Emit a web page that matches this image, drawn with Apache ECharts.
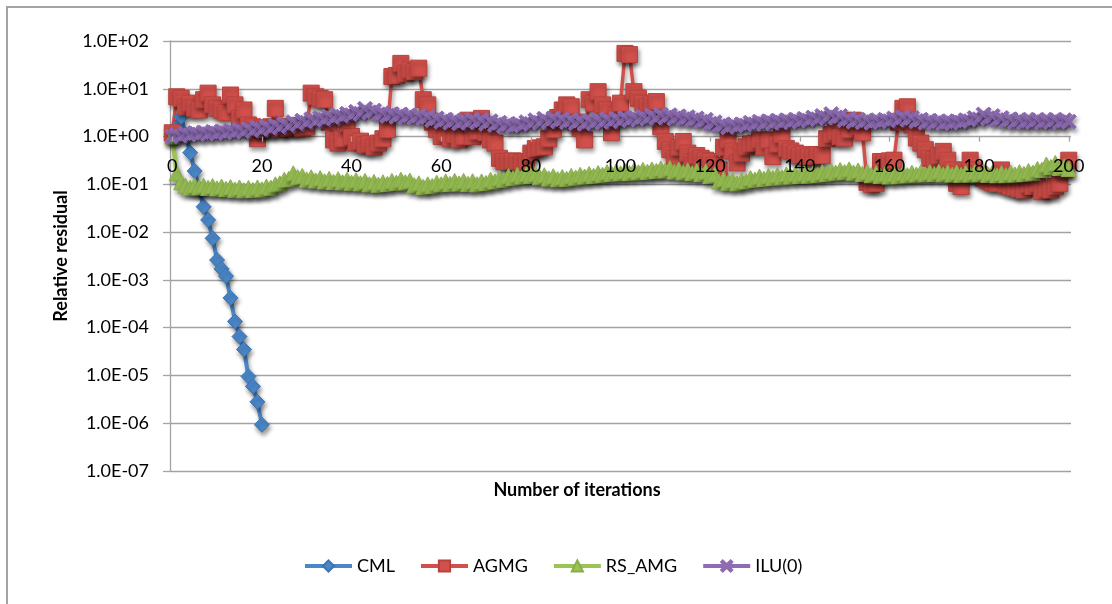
<!DOCTYPE html>
<html>
<head>
<meta charset="utf-8">
<title>Relative residual vs. iterations</title>
<script src="https://cdn.jsdelivr.net/npm/echarts@6/dist/echarts.min.js"></script>
<style>
  html, body { margin: 0; padding: 0; background: #ffffff; }
  #chart { width: 1112px; height: 604px; }
</style>
</head>
<body>
<div id="chart"></div>
<script>
// Iteration numbers along the horizontal axis (0 .. 200)
const iterations = Array.from({ length: 201 }, (_, i) => String(i));

// Decade ticks of the logarithmic residual axis and their printed labels
const yTickLabels = ['1.0E-07', '1.0E-06', '1.0E-05', '1.0E-04', '1.0E-03',
                     '1.0E-02', '1.0E-01', '1.0E+00', '1.0E+01', '1.0E+02'];

// CML: converges within about twenty iterations
const cml = [1.0, 1.6, 2.6, 1.1, 0.46, 0.19, 0.08, 0.034, 0.018, 0.0074,
             0.0026, 0.0017, 0.0012, 0.00042, 0.000135, 0.000065, 0.000035,
             0.0000095, 0.0000059, 0.0000028, 0.00000093];

// AGMG
const agmg = [
  1.2, 6.8, 6.3, 4.2, 5.0, 3.9, 3.6, 5.9, 8.1, 4.6,
  3.9, 3.6, 3.2, 7.4, 4.6, 2.4, 3.6, 1.75, 1.6, 0.9,
  1.5, 1.4, 1.6, 3.9, 1.4, 1.6, 1.5, 1.6, 1.7, 1.5,
  1.6, 8.1, 6.8, 6.3, 5.9, 2.0, 0.85, 0.73, 0.9, 1.9,
  1.0, 0.73, 0.8, 0.66, 0.7, 0.6, 0.73, 0.9, 1.4, 18,
  19, 34, 21, 25, 23, 27, 5.9, 4.6, 2.0, 1.4,
  1.0, 1.2, 0.9, 1.1, 0.85, 1.0, 2.2, 1.0, 1.3, 2.4,
  1.2, 0.85, 0.73, 0.35, 0.30, 0.30, 0.31, 0.30, 0.29, 0.30,
  0.45, 0.56, 0.58, 0.61, 0.9, 1.4, 2.5, 3.6, 4.6, 4.2,
  2.0, 1.5, 0.85, 5.9, 5.0, 8.7, 4.6, 3.6, 1.2, 2.8,
  5.0, 55, 52, 8.7, 6.3, 5.0, 4.2, 4.8, 5.4, 1.6,
  0.79, 0.53, 0.35, 0.6, 0.79, 0.45, 0.30, 0.40, 0.35, 0.32,
  0.3, 0.25, 0.2, 0.6, 0.85, 0.5, 0.28, 0.45, 0.61, 0.7,
  0.73, 0.85, 0.6, 0.85, 0.38, 0.7, 1.1, 0.56, 0.5, 0.45,
  0.4, 0.42, 0.38, 0.38, 0.42, 0.40, 0.9, 1.1, 1.25, 1.0,
  0.93, 1.4, 2.2, 1.6, 1.2, 0.11, 0.10, 0.105, 0.3, 0.3,
  0.31, 0.32, 2.0, 3.9, 4.2, 1.75, 0.93, 0.73, 0.53, 0.35,
  0.33, 0.4, 0.49, 0.32, 0.2, 0.105, 0.09, 0.2, 0.32, 0.2,
  0.16, 0.135, 0.12, 0.11, 0.105, 0.2, 0.1, 0.09, 0.085, 0.08,
  0.076, 0.1, 0.09, 0.105, 0.07, 0.08, 0.076, 0.09, 0.105, 0.2,
  0.32
];

// RS_AMG
const rsAmg = [
  1.00, 0.17, 0.11, 0.092, 0.085, 0.095, 0.086, 0.094, 0.084, 0.092,
  0.082, 0.090, 0.080, 0.088, 0.077, 0.086, 0.075, 0.084, 0.076, 0.086,
  0.078, 0.090, 0.085, 0.100, 0.105, 0.125, 0.130, 0.170, 0.140, 0.150,
  0.125, 0.140, 0.120, 0.135, 0.115, 0.130, 0.112, 0.128, 0.110, 0.125,
  0.108, 0.122, 0.105, 0.118, 0.100, 0.112, 0.098, 0.110, 0.102, 0.118,
  0.108, 0.125, 0.110, 0.120, 0.095, 0.105, 0.088, 0.100, 0.092, 0.108,
  0.100, 0.115, 0.102, 0.118, 0.104, 0.118, 0.102, 0.116, 0.100, 0.115,
  0.106, 0.125, 0.115, 0.135, 0.125, 0.150, 0.135, 0.160, 0.145, 0.165,
  0.150, 0.165, 0.140, 0.155, 0.132, 0.148, 0.128, 0.142, 0.130, 0.150,
  0.138, 0.158, 0.145, 0.165, 0.150, 0.172, 0.158, 0.180, 0.165, 0.185,
  0.170, 0.188, 0.172, 0.195, 0.178, 0.200, 0.182, 0.205, 0.190, 0.215,
  0.195, 0.220, 0.185, 0.205, 0.178, 0.198, 0.172, 0.190, 0.165, 0.185,
  0.150, 0.160, 0.115, 0.130, 0.108, 0.122, 0.105, 0.120, 0.115, 0.135,
  0.125, 0.145, 0.130, 0.150, 0.135, 0.155, 0.140, 0.162, 0.145, 0.165,
  0.150, 0.168, 0.152, 0.172, 0.158, 0.180, 0.165, 0.190, 0.175, 0.200,
  0.180, 0.205, 0.175, 0.195, 0.165, 0.182, 0.155, 0.172, 0.150, 0.165,
  0.145, 0.162, 0.148, 0.170, 0.155, 0.175, 0.160, 0.180, 0.162, 0.182,
  0.165, 0.185, 0.162, 0.180, 0.160, 0.178, 0.158, 0.176, 0.160, 0.180,
  0.162, 0.182, 0.158, 0.176, 0.155, 0.172, 0.156, 0.176, 0.160, 0.180,
  0.165, 0.190, 0.175, 0.210, 0.200, 0.260, 0.230, 0.280, 0.220, 0.240,
  0.210
];

// ILU(0)
const ilu0 = [
  1.00, 1.08, 1.02, 1.15, 1.06, 1.18, 1.10, 1.22, 1.12, 1.25,
  1.15, 1.28, 1.18, 1.32, 1.22, 1.38, 1.26, 1.45, 1.30, 1.52,
  1.38, 1.60, 1.45, 1.72, 1.55, 1.85, 1.65, 2.00, 1.80, 2.15,
  1.95, 2.30, 2.10, 2.45, 2.25, 2.60, 2.40, 2.80, 2.60, 3.00,
  2.80, 3.30, 3.00, 3.80, 3.20, 3.50, 2.90, 3.10, 2.70, 2.95,
  2.60, 2.90, 2.50, 2.80, 2.45, 2.75, 2.40, 2.60, 2.20, 2.40,
  2.05, 2.25, 1.95, 2.20, 1.90, 2.15, 1.95, 2.25, 2.00, 2.20,
  1.85, 2.10, 1.75, 1.95, 1.65, 1.85, 1.60, 1.80, 1.70, 2.00,
  1.85, 2.20, 1.95, 2.35, 2.05, 2.40, 2.10, 2.30, 2.00, 2.20,
  1.90, 2.15, 1.85, 2.10, 1.90, 2.20, 1.95, 2.30, 2.05, 2.35,
  2.10, 2.45, 2.20, 2.50, 2.25, 2.60, 2.35, 2.75, 2.45, 2.85,
  2.50, 2.80, 2.40, 2.65, 2.30, 2.55, 2.20, 2.40, 2.05, 2.25,
  1.85, 2.00, 1.65, 1.80, 1.55, 1.75, 1.60, 1.80, 1.70, 1.95,
  1.80, 2.05, 1.85, 2.10, 1.90, 2.15, 1.95, 2.20, 2.00, 2.25,
  2.05, 2.35, 2.15, 2.50, 2.30, 2.70, 2.45, 2.95, 2.50, 2.70,
  2.20, 2.35, 2.05, 2.25, 2.00, 2.20, 1.95, 2.15, 2.00, 2.25,
  2.10, 2.40, 2.20, 2.55, 2.25, 2.45, 2.10, 2.25, 1.95, 2.15,
  1.90, 2.10, 1.85, 2.05, 1.90, 2.10, 1.95, 2.20, 2.10, 2.45,
  2.30, 2.90, 2.40, 2.70, 2.20, 2.45, 2.05, 2.30, 2.00, 2.25,
  1.95, 2.20, 2.00, 2.25, 1.95, 2.20, 2.00, 2.25, 1.95, 2.20,
  2.05
];

const FONT = 'Lato';
const GRID_LINE = '#a3a3a3';

// Drop shadow shared by the lines and the markers
const shadow = {
  shadowColor: 'rgba(0,0,0,0.4)',
  shadowBlur: 4,
  shadowOffsetX: 1.5,
  shadowOffsetY: 3.5
};

const crossSymbol = 'path://M3,0 L10,7 L17,0 L20,3 L13,10 L20,17 L17,20 L10,13 L3,20 L0,17 L7,10 L0,3 Z';

function makeSeries(name, data, color, symbol, symbolSize, lineWidth, border) {
  return {
    name: name,
    type: 'line',
    xAxisIndex: 0,
    yAxisIndex: 0,
    data: data,
    symbol: symbol,
    symbolSize: symbolSize,
    showAllSymbol: true,
    lineStyle: Object.assign({ color: color, width: lineWidth }, shadow),
    itemStyle: Object.assign({ color: color, borderColor: border, borderWidth: 1 }, shadow),
    emphasis: { disabled: true }
  };
}

function decadeLabel(v) {
  const e = Math.round(Math.log10(v));
  return yTickLabels[e + 7] !== undefined ? yTickLabels[e + 7] : '';
}

const chart = echarts.init(document.getElementById('chart'), null, { renderer: 'canvas' });

chart.setOption({
  animation: false,
  backgroundColor: '#ffffff',
  textStyle: { fontFamily: FONT },
  grid: [
    // plotting area
    { left: 170, right: 41, top: 41, bottom: 133 },
    // band whose bottom edge sits on the 1.0E+00 line and carries the iteration labels
    { left: 170, right: 41, top: 41, height: 95.6 }
  ],
  xAxis: [
    {
      type: 'category',
      gridIndex: 0,
      data: iterations,
      boundaryGap: true,
      show: false
    },
    {
      type: 'category',
      gridIndex: 1,
      data: iterations,
      boundaryGap: true,
      position: 'bottom',
      z: 10,
      axisLine: { show: false },
      axisTick: {
        show: true,
        interval: 19,
        alignWithLabel: true,
        length: 5,
        lineStyle: { color: GRID_LINE, width: 1.3 }
      },
      axisLabel: {
        interval: 19,
        margin: 21,
        color: '#000000',
        fontFamily: FONT,
        fontSize: 18
      },
      splitLine: { show: false }
    }
  ],
  yAxis: [
    {
      type: 'log',
      gridIndex: 0,
      logBase: 10,
      min: 1e-7,
      max: 100,
      interval: 1,
      name: 'Relative residual',
      nameLocation: 'middle',
      nameRotate: 90,
      nameGap: 100,
      nameTextStyle: {
        color: '#000000',
        fontFamily: FONT,
        fontSize: 18,
        fontWeight: 'bold'
      },
      axisLine: { show: true, lineStyle: { color: GRID_LINE, width: 1.3 } },
      axisTick: { show: true, length: 7, lineStyle: { color: GRID_LINE, width: 1.3 } },
      axisLabel: {
        margin: 21,
        color: '#000000',
        fontFamily: FONT,
        fontSize: 18,
        formatter: decadeLabel
      },
      splitLine: { show: true, lineStyle: { color: GRID_LINE, width: 1.3 } },
      minorTick: { show: false },
      minorSplitLine: { show: false }
    },
    {
      type: 'value',
      gridIndex: 1,
      show: false
    }
  ],
  legend: {
    left: 298,
    top: 552,
    itemWidth: 47,
    itemHeight: 14,
    itemGap: 24,
    lineStyle: { width: 4, shadowBlur: 0, shadowOffsetX: 0, shadowOffsetY: 0 },
    itemStyle: { shadowBlur: 0, shadowOffsetX: 0, shadowOffsetY: 0 },
    textStyle: { color: '#000000', fontFamily: FONT, fontSize: 18 },
    data: ['CML', 'AGMG', 'RS_AMG', 'ILU(0)']
  },
  graphic: [
    {
      type: 'rect',
      silent: true,
      shape: { x: 7, y: 7, width: 1300, height: 800 },
      style: { fill: 'none', stroke: '#a3a3a3', lineWidth: 2 }
    },
    {
      type: 'text',
      silent: true,
      x: 577,
      y: 490,
      style: {
        text: 'Number of iterations',
        fill: '#000000',
        fontFamily: FONT,
        fontSize: 18,
        fontWeight: 'bold',
        align: 'center',
        verticalAlign: 'middle'
      }
    }
  ],
  series: [
    makeSeries('CML', cml, '#4A86C8', 'diamond', 15, 4, '#3d74b0'),
    makeSeries('AGMG', agmg, '#D2504B', 'rect', 16, 3.5, '#b8423d'),
    makeSeries('RS_AMG', rsAmg, '#9BC356', 'triangle', 15, 4.5, '#89ad48'),
    makeSeries('ILU(0)', ilu0, '#8E6CB3', crossSymbol, 15, 4, '#8E6CB3')
  ]
});
</script>
</body>
</html>
